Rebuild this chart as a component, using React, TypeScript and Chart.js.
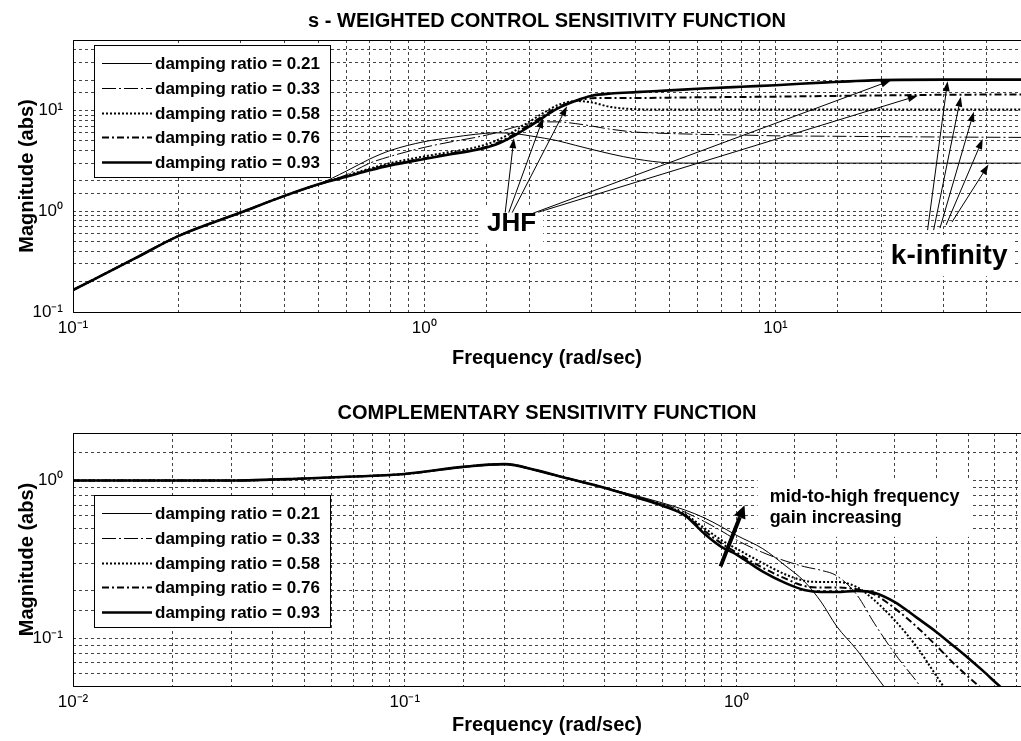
import React, { useEffect, useRef } from 'react';
import { Chart, registerables } from 'chart.js';

Chart.register(...registerables);

const FONT = '"Liberation Sans", Arial, Helvetica, sans-serif';
const GRID = '#444';

// ---- series labels ----
const dampingRatios = [0.21, 0.33, 0.58, 0.76, 0.93];
const seriesLabels = dampingRatios.map((d) => `damping ratio = ${d.toFixed(2)}`);

// ---- s-weighted control sensitivity (rad/sec, |.|) ----
const csFreq = [0.1, 0.15, 0.2, 0.3, 0.4, 0.5, 0.6, 0.7, 0.8, 1.0, 1.2, 1.4, 1.6, 1.8, 2.0, 2.2, 2.4, 2.7, 3.0, 3.4, 4.0, 5.0, 6.0, 8.0, 10, 14, 20, 30, 50];
const cs021 = [0.165, 0.34, 0.57, 0.97, 1.42, 1.85, 2.5, 3.3, 4.0, 4.9, 5.4, 5.8, 6.0, 5.9, 5.6, 5.3, 5.0, 4.5, 4.1, 3.7, 3.3, 3.02, 3.0, 3.0, 3.0, 3.0, 3.0, 3.0, 3.0];
const cs033 = [0.165, 0.34, 0.57, 0.97, 1.42, 1.85, 2.3, 3.0, 3.5, 4.3, 4.9, 5.4, 6.0, 6.8, 7.4, 7.7, 7.7, 7.4, 7.0, 6.5, 6.1, 5.9, 5.8, 5.7, 5.6, 5.55, 5.5, 5.45, 5.4];
const cs058 = [0.165, 0.34, 0.57, 0.97, 1.42, 1.85, 2.25, 2.65, 3.0, 3.5, 3.9, 4.3, 5.0, 6.2, 7.8, 9.6, 11.3, 12.4, 12.0, 10.8, 10.3, 10.2, 10.2, 10.2, 10.2, 10.2, 10.2, 10.2, 10.2];
const cs076 = [0.165, 0.34, 0.57, 0.97, 1.42, 1.85, 2.2, 2.6, 2.9, 3.35, 3.75, 4.1, 4.7, 5.8, 7.3, 9.0, 10.8, 12.4, 13.2, 13.3, 13.3, 13.4, 13.5, 13.6, 13.7, 13.9, 14.1, 14.3, 14.4];
const cs093 = [0.165, 0.34, 0.57, 0.97, 1.42, 1.85, 2.2, 2.55, 2.85, 3.3, 3.7, 4.05, 4.6, 5.6, 7.0, 8.7, 10.5, 12.5, 14.0, 14.7, 15.2, 15.8, 16.4, 17.2, 17.8, 19.0, 20.0, 20.2, 20.2];

// ---- complementary sensitivity (rad/sec, |.|) ----
const tFreq = [0.01, 0.02, 0.03, 0.05, 0.07, 0.1, 0.15, 0.2, 0.25, 0.3, 0.4, 0.5, 0.6, 0.7, 0.8, 0.9, 1.0, 1.2, 1.4, 1.6, 1.8, 2.0, 2.3, 2.6, 3.0, 3.5, 4.0, 4.5, 5.0, 5.5, 6.2, 7.0];
const t021 = [1.0, 1.0, 1.0, 1.03, 1.06, 1.1, 1.22, 1.27, 1.16, 1.05, 0.9, 0.8, 0.72, 0.65, 0.58, 0.51, 0.45, 0.37, 0.29, 0.23, 0.17, 0.12, 0.085, 0.06, 0.04, null, null, null, null, null, null, null];
const t033 = [1.0, 1.0, 1.0, 1.03, 1.06, 1.1, 1.22, 1.27, 1.16, 1.05, 0.9, 0.79, 0.71, 0.63, 0.55, 0.48, 0.42, 0.35, 0.31, 0.285, 0.27, 0.25, 0.19, 0.125, 0.08, 0.053, 0.036, null, null, null, null, null];
const t058 = [1.0, 1.0, 1.0, 1.03, 1.06, 1.1, 1.22, 1.27, 1.16, 1.05, 0.9, 0.785, 0.7, 0.61, 0.5, 0.42, 0.37, 0.3, 0.255, 0.232, 0.228, 0.228, 0.212, 0.175, 0.13, 0.088, 0.058, 0.04, null, null, null, null];
const t076 = [1.0, 1.0, 1.0, 1.03, 1.06, 1.1, 1.22, 1.27, 1.16, 1.05, 0.9, 0.78, 0.695, 0.6, 0.48, 0.4, 0.35, 0.28, 0.24, 0.215, 0.21, 0.21, 0.205, 0.19, 0.155, 0.118, 0.09, 0.07, 0.057, 0.048, 0.038, null];
const t093 = [1.0, 1.0, 1.0, 1.03, 1.06, 1.1, 1.22, 1.27, 1.16, 1.05, 0.9, 0.78, 0.69, 0.6, 0.46, 0.38, 0.34, 0.265, 0.225, 0.203, 0.197, 0.197, 0.2, 0.195, 0.17, 0.135, 0.11, 0.09, 0.075, 0.063, 0.05, 0.04];

// ---- axis limits ----
const csFreqRange = [0.1, 50];
const csMagRange = [0.1, 50];
const tFreqRange = [0.01, 7.2];
const tMagRange = [0.05, 2];

// ---- annotations, anchored in data units [freq, magnitude] ----
const csNotes = [
  { text: 'JHF', at: [1.51, 0.743], size: 26 },
  { text: 'k-infinity', at: [21.3, 0.358], size: 28 },
];
// [tailFreq, tailMag, headFreq, headMag]
const csArrows = [
  [1.7, 0.97, 1.8, 5.3],
  [1.74, 0.97, 2.18, 8.4],
  [1.78, 0.97, 2.55, 11.0],
  [2.04, 0.955, 21.3, 19.8],
  [2.11, 0.977, 25.4, 14.0],
  [27.1, 0.65, 30.9, 19.5],
  [28.2, 0.65, 33.7, 13.7],
  [29.4, 0.68, 36.7, 9.7],
  [30.6, 0.73, 38.9, 5.2],
  [31.8, 0.78, 40.4, 2.9],
];
const tNoteLines = ['mid-to-high frequency', 'gain increasing'];
const tNoteAt = [1.258, 0.783];
const tGainArrow = [0.895, 0.286, 1.057, 0.698];

// line style of each damping ratio
const lineStyles = [
  { width: 1, dash: [] as number[] },
  { width: 1, dash: [14, 3, 2, 3] },
  { width: 2, dash: [2, 2] },
  { width: 2, dash: [7, 3, 2, 3] },
  { width: 2.6, dash: [] as number[] },
];

const SUP: Record<string, string> = { '-': '\u207B', '0': '\u2070', '1': '\u00B9', '2': '\u00B2', '3': '\u00B3' };
function decadeLabel(v: number): string {
  const e = Math.log10(v);
  const r = Math.round(e);
  if (Math.abs(e - r) > 1e-6) return '';
  return '10' + String(r).split('').map((c) => SUP[c] ?? c).join('');
}

function buildDatasets(freq: number[], series: (number | null)[][]) {
  return series.map((vals, i) => ({
    label: seriesLabels[i],
    data: freq.map((f, j) => ({ x: f, y: vals[j] })),
    borderColor: '#000',
    backgroundColor: '#000',
    borderWidth: lineStyles[i].width,
    borderDash: lineStyles[i].dash,
    pointRadius: 0,
    fill: false,
    spanGaps: false,
    cubicInterpolationMode: 'monotone' as const,
  }));
}

function drawArrow(ctx: CanvasRenderingContext2D, x0: number, y0: number, x1: number, y1: number, w: number, hl: number, hw: number) {
  const dx = x1 - x0, dy = y1 - y0;
  const len = Math.hypot(dx, dy);
  const ux = dx / len, uy = dy / len;
  const bx = x1 - ux * hl, by = y1 - uy * hl;
  ctx.save();
  ctx.setLineDash([]);
  ctx.strokeStyle = '#000';
  ctx.fillStyle = '#000';
  ctx.lineWidth = w;
  ctx.beginPath();
  ctx.moveTo(x0, y0);
  ctx.lineTo(bx, by);
  ctx.stroke();
  ctx.beginPath();
  ctx.moveTo(x1, y1);
  ctx.lineTo(bx - uy * hw, by + ux * hw);
  ctx.lineTo(bx + uy * hw, by - ux * hw);
  ctx.closePath();
  ctx.fill();
  ctx.restore();
}

type OverlayOpts = {
  title: string;
  titleY: number;
  legendTop: number;
  draw: (chart: any) => void;
};

function overlay(opts: OverlayOpts) {
  return {
    id: 'overlay',
    afterDatasetsDraw(chart: any) {
      const { ctx, chartArea: a } = chart;
      ctx.save();
      opts.draw(chart);

      // legend box
      const L = a.left + 21, T = a.top + opts.legendTop, W = 236, H = 132;
      ctx.setLineDash([]);
      ctx.fillStyle = '#fff';
      ctx.fillRect(L, T, W, H);
      ctx.strokeStyle = '#000';
      ctx.lineWidth = 1;
      ctx.strokeRect(L + 0.5, T + 0.5, W, H);
      ctx.font = `bold 17px ${FONT}`;
      ctx.textBaseline = 'middle';
      ctx.textAlign = 'left';
      chart.data.datasets.forEach((ds: any, i: number) => {
        const y = Math.round(T + 18 + i * 24.75) + 0.5;
        ctx.save();
        ctx.strokeStyle = '#000';
        ctx.lineWidth = ds.borderWidth;
        ctx.setLineDash(ds.borderDash || []);
        ctx.beginPath();
        ctx.moveTo(L + 8, y);
        ctx.lineTo(L + 58, y);
        ctx.stroke();
        ctx.restore();
        ctx.fillStyle = '#000';
        ctx.fillText(ds.label, L + 61, y + 1);
      });

      // axes frame
      ctx.setLineDash([]);
      ctx.strokeStyle = '#000';
      ctx.lineWidth = 1;
      ctx.beginPath();
      ctx.moveTo(a.left + 0.5, a.bottom + 0.5);
      ctx.lineTo(a.left + 0.5, a.top + 0.5);
      ctx.lineTo(a.right, a.top + 0.5);
      ctx.moveTo(a.left + 0.5, a.bottom + 0.5);
      ctx.lineTo(a.right, a.bottom + 0.5);
      ctx.stroke();

      // title
      ctx.fillStyle = '#000';
      ctx.font = `bold 20px ${FONT}`;
      ctx.textAlign = 'center';
      ctx.textBaseline = 'middle';
      ctx.fillText(opts.title, (a.left + a.right) / 2, opts.titleY);
      ctx.restore();
    },
  };
}

function noteBox(ctx: CanvasRenderingContext2D, lines: string[], x: number, yc: number, font: string, lh: number, padX: number, padY: number) {
  ctx.save();
  ctx.font = font;
  const w = Math.max(...lines.map((s) => ctx.measureText(s).width));
  const h = lines.length * lh;
  const top = yc - lh / 2;
  ctx.fillStyle = '#fff';
  ctx.fillRect(x - padX, top - padY, w + 2 * padX, h + 2 * padY);
  ctx.fillStyle = '#000';
  ctx.textAlign = 'left';
  ctx.textBaseline = 'middle';
  lines.forEach((s, i) => ctx.fillText(s, x, yc + i * lh));
  ctx.restore();
}

function scales(xr: number[], yr: number[], xAxisHeight: number, xTitlePad: number) {
  const tickFont = { family: FONT, size: 17 };
  const titleFont = { family: FONT, size: 20, weight: 'bold' as const };
  return {
    x: {
      type: 'logarithmic' as const,
      min: xr[0],
      max: xr[1],
      grid: { color: GRID, lineWidth: 1, drawTicks: false },
      border: { display: false, dash: [3, 3] },
      ticks: {
        autoSkip: false,
        maxRotation: 0,
        minRotation: 0,
        padding: 6,
        color: '#000',
        font: tickFont,
        callback: (v: any) => decadeLabel(Number(v)),
      },
      title: { display: true, text: 'Frequency (rad/sec)', color: '#000', font: titleFont, padding: { top: 0, bottom: xTitlePad } },
      afterFit: (s: any) => {
        s.height = xAxisHeight;
        s.paddingLeft = 0;
        s.paddingRight = 0;
      },
    },
    y: {
      type: 'logarithmic' as const,
      min: yr[0],
      max: yr[1],
      grid: { color: GRID, lineWidth: 1, drawTicks: false },
      border: { display: false, dash: [3, 3] },
      ticks: {
        autoSkip: false,
        padding: 10,
        color: '#000',
        font: tickFont,
        callback: (v: any) => decadeLabel(Number(v)),
      },
      title: { display: true, text: 'Magnitude (abs)', color: '#000', font: titleFont, padding: { top: 15, bottom: 0 } },
      afterFit: (s: any) => {
        s.width = 73;
        s.paddingTop = 0;
        s.paddingBottom = 0;
      },
    },
  };
}

export default function App() {
  const topRef = useRef<HTMLCanvasElement>(null);
  const botRef = useRef<HTMLCanvasElement>(null);

  useEffect(() => {
    const common = {
      responsive: false,
      animation: false as const,
      events: [] as any[],
      plugins: { legend: { display: false }, title: { display: false }, tooltip: { enabled: false } },
    };

    const top = new Chart(topRef.current!, {
      type: 'line',
      data: { datasets: buildDatasets(csFreq, [cs021, cs033, cs058, cs076, cs093]) as any },
      options: {
        ...common,
        layout: { padding: { top: 40, left: 0, right: 0, bottom: 8 } },
        scales: scales(csFreqRange, csMagRange, 60, 2) as any,
      },
      plugins: [
        overlay({
          title: 's - WEIGHTED CONTROL SENSITIVITY FUNCTION',
          titleY: 21,
          legendTop: 5,
          draw: (chart: any) => {
            const { ctx, scales: { x, y } } = chart;
            csNotes.forEach((n) => {
              noteBox(ctx, [n.text], x.getPixelForValue(n.at[0]), y.getPixelForValue(n.at[1]), `bold ${n.size}px ${FONT}`, n.size + 2, 7, 5);
            });
            csArrows.forEach((a) => {
              drawArrow(ctx, x.getPixelForValue(a[0]), y.getPixelForValue(a[1]), x.getPixelForValue(a[2]), y.getPixelForValue(a[3]), 1, 10, 3.5);
            });
          },
        }),
      ],
    });

    const bottom = new Chart(botRef.current!, {
      type: 'line',
      data: { datasets: buildDatasets(tFreq, [t021, t033, t058, t076, t093]) as any },
      options: {
        ...common,
        layout: { padding: { top: 53, left: 0, right: 0, bottom: 0 } },
        scales: scales(tFreqRange, tMagRange, 55, 4) as any,
      },
      plugins: [
        overlay({
          title: 'COMPLEMENTARY SENSITIVITY FUNCTION',
          titleY: 33,
          legendTop: 62,
          draw: (chart: any) => {
            const { ctx, scales: { x, y } } = chart;
            noteBox(ctx, tNoteLines, x.getPixelForValue(tNoteAt[0]), y.getPixelForValue(tNoteAt[1]), `bold 18px ${FONT}`, 21, 12, 8);
            const g = tGainArrow;
            drawArrow(ctx, x.getPixelForValue(g[0]), y.getPixelForValue(g[1]), x.getPixelForValue(g[2]), y.getPixelForValue(g[3]), 4, 13, 6);
          },
        }),
      ],
    });

    return () => {
      top.destroy();
      bottom.destroy();
    };
  }, []);

  return (
    <div style={{ position: 'absolute', left: 0, top: 0, width: 1021, height: 741, background: '#fff', overflow: 'hidden' }}>
      <canvas ref={topRef} width={1021} height={380} style={{ position: 'absolute', left: 0, top: 0 }} />
      <canvas ref={botRef} width={1021} height={361} style={{ position: 'absolute', left: 0, top: 380 }} />
    </div>
  );
}
